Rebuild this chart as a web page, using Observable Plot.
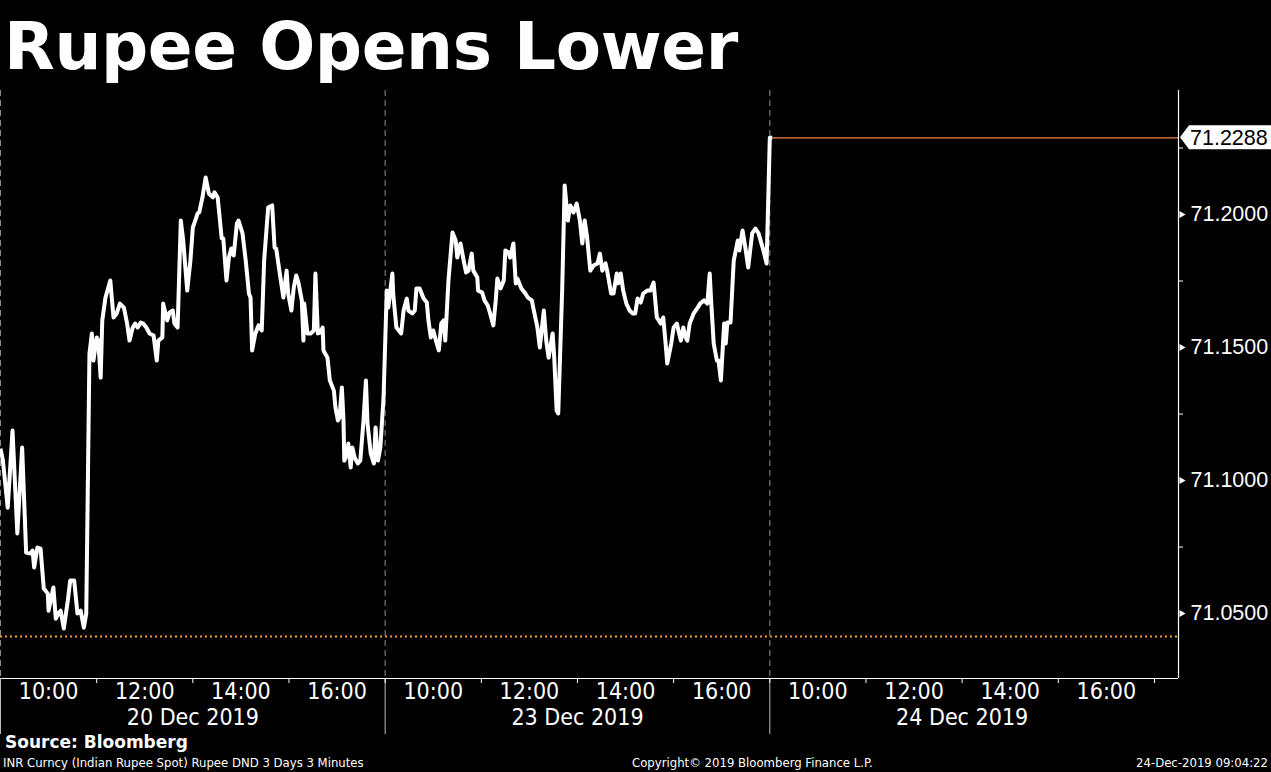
<!DOCTYPE html>
<html>
<head>
<meta charset="utf-8">
<script src="https://cdn.jsdelivr.net/npm/d3@7"></script>
<script src="https://cdn.jsdelivr.net/npm/@observablehq/plot@0.6"></script>
<style>
  html, body { margin: 0; padding: 0; background: #000; }
  body { width: 1271px; height: 772px; overflow: hidden; position: relative; color: #fff; }
  #title { position: absolute; left: 4px; top: 14px; font: bold 66px "DejaVu Sans", sans-serif; letter-spacing: -0.4px; line-height: 66px; color: #fff; white-space: nowrap; }
  #chart { position: absolute; left: 0; top: 88px; }
  #source { position: absolute; left: 5px; top: 732px; font: bold 17px "DejaVu Sans", sans-serif; color: #fff; }
  .foot { position: absolute; top: 755px; font: 13px "Liberation Sans Narrow", "DejaVu Sans Condensed", sans-serif; color: #fff; white-space: nowrap; }
</style>
</head>
<body>
<div id="title">Rupee Opens Lower</div>
<div id="chart"></div>
<div id="source">Source: Bloomberg</div>
<div class="foot" style="left:3px">INR Curncy (Indian Rupee Spot) Rupee DND 3 Days 3 Minutes</div>
<div class="foot" style="left:632px">Copyright© 2019 Bloomberg Finance L.P.</div>
<div class="foot" style="right:3px">24-Dec-2019 09:04:22</div>
<script>
// ---------- data ----------
const dayLabels = ["20 Dec 2019", "23 Dec 2019", "24 Dec 2019"];
const hourLabels = ["10:00", "12:00", "14:00", "16:00"];
const yTicks = [71.05, 71.10, 71.15, 71.20];
const yMinorTicks = [71.075, 71.125, 71.175, 71.225];
const lastPrice = 71.2288;
const refLevel = 71.0414;

const d20Times = ["09:00","09:03","09:09","09:15","09:21","09:27","09:32","09:37","09:40","09:42","09:46","09:50","09:54","09:59","10:00","10:06","10:09","10:12","10:15","10:19","10:24","10:27","10:32","10:36","10:40","10:44","10:47","10:51","10:54","10:56","11:00","11:02","11:05","11:07","11:11","11:17","11:21","11:25","11:29","11:34","11:38","11:41","11:45","11:48","11:51","11:55","11:58","12:02","12:06","12:11","12:15","12:17","12:22","12:23","12:28","12:31","12:35","12:37","12:41","12:45","12:48","12:53","12:57","13:00","13:03","13:06","13:08","13:12","13:16","13:20","13:25","13:27","13:31","13:33","13:36","13:38","13:42","13:45","13:48","13:51","13:55","13:57","14:02","14:06","14:10","14:12","14:14","14:18","14:22","14:26","14:29","14:34","14:39","14:42","14:44","14:48","14:53","14:57","14:59","15:03","15:06","15:09","15:12","15:16","15:18","15:19","15:23","15:27","15:31","15:33","15:36","15:39","15:42","15:43","15:48","15:51","15:56","15:58","16:01","16:03","16:06","16:08","16:09","16:13","16:14","16:17","16:19","16:22","16:26","16:29","16:33","16:36","16:38","16:42","16:46","16:48","16:51","16:54","16:58"];
const d20Values = [71.1120,71.1075,71.0898,71.1188,71.0801,71.1124,71.0729,71.0726,71.0737,71.0673,71.0748,71.0744,71.0594,71.0575,71.0511,71.0598,71.0481,71.0500,71.0511,71.0444,71.0549,71.0624,71.0624,71.0500,71.0511,71.0447,71.0500,71.1477,71.1553,71.1451,71.1538,71.1526,71.1387,71.1602,71.1688,71.1752,71.1613,71.1628,71.1665,71.1650,71.1590,71.1526,71.1575,71.1590,71.1575,71.1594,71.1590,71.1575,71.1553,71.1545,71.1451,71.1526,71.1538,71.1665,71.1602,71.1632,71.1639,71.1590,71.1575,71.1977,71.1902,71.1714,71.1827,71.1951,71.1977,71.2004,71.2008,71.2064,71.2139,71.2079,71.2064,71.2083,71.2064,71.2004,71.1910,71.1910,71.1752,71.1838,71.1872,71.1846,71.1966,71.1977,71.1929,71.1827,71.1703,71.1688,71.1489,71.1553,71.1583,71.1564,71.1827,71.2026,71.2034,71.1876,71.1872,71.1789,71.1688,71.1789,71.1703,71.1639,71.1726,71.1771,71.1741,71.1677,71.1526,71.1665,71.1553,71.1553,71.1564,71.1778,71.1553,71.1556,71.1575,71.1489,71.1462,71.1376,71.1338,71.1274,71.1226,71.1237,71.1350,71.1226,71.1075,71.1102,71.1139,71.1049,71.1124,71.1086,71.1064,71.1075,71.1226,71.1376,71.1214,71.1102,71.1064,71.1199,71.1075,71.1124,71.1312];

const d23Times = ["09:02","09:04","09:09","09:10","09:14","09:17","09:20","09:23","09:27","09:29","09:34","09:37","09:39","09:43","09:48","09:52","09:54","09:57","10:00","10:04","10:07","10:10","10:13","10:15","10:19","10:24","10:28","10:30","10:34","10:38","10:41","10:44","10:48","10:50","10:55","10:56","11:01","11:04","11:08","11:11","11:15","11:18","11:20","11:24","11:28","11:30","11:34","11:36","11:40","11:43","11:45","11:50","11:54","11:58","12:03","12:05","12:10","12:13","12:18","12:21","12:24","12:29","12:31","12:34","12:36","12:41","12:44","12:48","12:51","12:55","12:59","13:03","13:06","13:09","13:12","13:16","13:20","13:25","13:28","13:31","13:35","13:37","13:42","13:45","13:49","13:51","13:54","13:57","14:01","14:05","14:09","14:12","14:15","14:19","14:22","14:27","14:31","14:35","14:39","14:44","14:47","14:50","14:52","14:57","15:00","15:04","15:06","15:09","15:12","15:15","15:17","15:20","15:25","15:30","15:33","15:38","15:42","15:45","15:47","15:50","15:54","15:56","15:59","16:03","16:05","16:07","16:11","16:15","16:20","16:22","16:26","16:30","16:33","16:38","16:42","16:46","16:52","16:56"];
const d23Values = [71.1714,71.1650,71.1778,71.1703,71.1575,71.1564,71.1553,71.1639,71.1684,71.1639,71.1628,71.1639,71.1722,71.1722,71.1684,71.1669,71.1602,71.1538,71.1564,71.1519,71.1489,71.1590,71.1602,71.1526,71.1752,71.1932,71.1902,71.1838,71.1891,71.1827,71.1782,71.1789,71.1853,71.1789,71.1763,71.1714,71.1707,71.1677,71.1658,71.1628,71.1583,71.1677,71.1759,71.1722,71.1752,71.1865,71.1857,71.1838,71.1891,71.1741,71.1759,71.1722,71.1707,71.1688,71.1677,71.1647,71.1575,71.1500,71.1639,71.1526,71.1462,71.1553,71.1462,71.1263,71.1252,71.1726,71.2109,71.1977,71.2034,71.2008,71.2041,71.1977,71.1891,71.1977,71.1914,71.1789,71.1808,71.1816,71.1853,71.1789,71.1816,71.1789,71.1703,71.1703,71.1778,71.1741,71.1778,71.1714,71.1665,71.1639,71.1628,71.1628,71.1684,71.1669,71.1703,71.1714,71.1714,71.1744,71.1613,71.1590,71.1613,71.1515,71.1440,71.1515,71.1575,71.1590,71.1564,71.1526,71.1575,71.1538,71.1526,71.1590,71.1628,71.1650,71.1665,71.1677,71.1665,71.1778,71.1665,71.1515,71.1451,71.1451,71.1376,71.1590,71.1515,71.1594,71.1594,71.1827,71.1902,71.1865,71.1940,71.1865,71.1801,71.1929,71.1947,71.1929,71.1865,71.1816];

const d24Times = ["09:00", "09:03"];
const d24Values = [71.2288, 71.2288];

// ---------- session-time axis (9:00–17:00 per trading day) ----------
const sessionStart = 9, sessionHours = 8;
const xMax = dayLabels.length * sessionHours + 0.5;
const pos = (dayIdx, t) => {
  const [h, m] = t.split(":").map(Number);
  return dayIdx * sessionHours + (h - sessionStart) + m / 60;
};
const series = [[d20Times, d20Values], [d23Times, d23Values], [d24Times, d24Values]]
  .flatMap(([ts, vs], i) => ts.map((t, j) => ({x: pos(i, t), y: vs[j]})));
const lastX = series[series.length - 1].x;

const dayBounds = dayLabels.map((_, i) => i * sessionHours);
const labelPos = dayLabels.flatMap((_, i) => hourLabels.map(l => pos(i, l)));
const oddTickPos = dayLabels.flatMap((_, i) => [11, 13, 15, 17].map(h => pos(i, h + ":00")));
const dayCenters = dayLabels.map((_, i) => i * sessionHours + sessionHours / 2);
const hourFmt = x => { const h = Math.round((x % sessionHours) + sessionStart); return `${h}:00`; };

const narrow = '"Liberation Sans Narrow", "DejaVu Sans Condensed", sans-serif';
const yDomain = [71.0256, 71.2466];

const priceTag = (index, scales, values, dims) => {
  const y = scales.y(lastPrice);
  const x0 = dims.width - dims.marginRight + 2;
  const g = d3.create("svg:g");
  g.append("path")
    .attr("d", `M${x0},${y} L${x0 + 9},${y - 12} H${dims.width} V${y + 12} H${x0 + 9} Z`)
    .attr("fill", "#fff");
  g.append("text")
    .attr("x", x0 + 10).attr("y", y).attr("dy", "0.36em")
    .attr("text-anchor", "start")
    .attr("fill", "#000")
    .attr("font-family", '"Liberation Sans", sans-serif')
    .attr("font-size", 21.5)
    .text(d3.format(".4f")(lastPrice));
  return g.node();
};

const chart = Plot.plot({
  width: 1271,
  height: 647,
  marginLeft: 0,
  marginRight: 93,
  marginTop: 2,
  marginBottom: 57,
  style: {background: "#000", color: "#fff", overflow: "visible"},
  x: {type: "linear", domain: [0, xMax], axis: null},
  y: {domain: yDomain, axis: null},
  marks: [
    // dashed day separators
    Plot.ruleX(dayBounds, {stroke: "#8c8c8c", strokeWidth: 1, strokeDasharray: "6,4"}),
    // reference dotted level
    Plot.ruleY([refLevel], {stroke: "#f39a2e", strokeWidth: 2, strokeDasharray: "2,3"}),
    // last price line
    Plot.ruleY([lastPrice], {x1: lastX, x2: xMax, stroke: "#f58a3c", strokeWidth: 1.3}),
    // price series
    Plot.line(series, {x: "x", y: "y", stroke: "#fff", strokeWidth: 4, strokeLinejoin: "round", strokeLinecap: "butt"}),
    // axis lines
    Plot.ruleY([yDomain[0]], {stroke: "#fff", strokeWidth: 1.2}),
    Plot.ruleX([xMax], {stroke: "#fff", strokeWidth: 1.2}),
    // x axis: day separators below axis
    Plot.axisX({ticks: dayBounds, tickSize: 56, tickFormat: () => "", stroke: "#bdbdbd", label: null}),
    // x axis: odd-hour ticks
    Plot.axisX({ticks: oddTickPos, tickSize: 5, tickFormat: () => "", stroke: "#fff", label: null}),
    // x axis: hour labels
    Plot.axisX({ticks: labelPos, tickSize: 0, tickPadding: 4, tickFormat: hourFmt, fontSize: 23, fontFamily: narrow, fill: "#fff", label: null}),
    // x axis: day labels
    Plot.axisX({ticks: dayCenters, tickSize: 0, tickPadding: 30, tickFormat: (d, i) => dayLabels[i], fontSize: 23, fontFamily: narrow, fill: "#fff", label: null}),
    // y axis minor ticks
    Plot.axisY({anchor: "right", ticks: yMinorTicks, tickSize: 4, tickFormat: () => "", stroke: "#fff", label: null}),
    // y axis labels
    Plot.axisY({anchor: "right", ticks: yTicks, tickSize: 0, tickPadding: 12, tickFormat: d3.format(".4f"), fontSize: 21.5, fontFamily: '"Liberation Sans", sans-serif', fill: "#fff", label: null}),
    Plot.dot(yTicks, {x: xMax, y: d => d, symbol: "triangle", rotate: 90, r: 2.6, fill: "#fff", dx: 3}),
    priceTag
  ]
});
document.getElementById("chart").appendChild(chart);
</script>
</body>
</html>
